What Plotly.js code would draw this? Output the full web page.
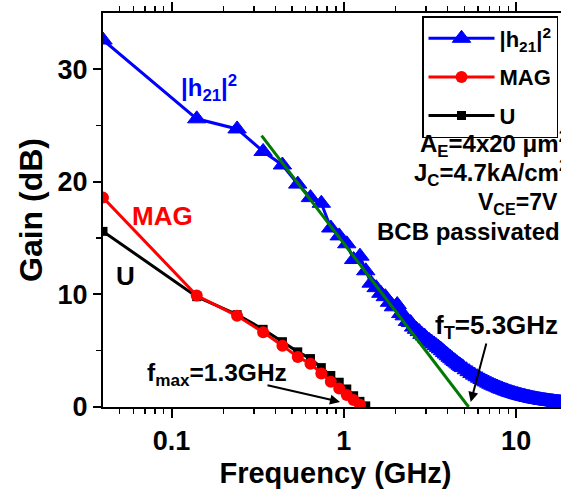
<!DOCTYPE html>
<html>
<head>
<meta charset="utf-8">
<script src="https://cdn.plot.ly/plotly-3.0.1.min.js"></script>
<style>
html,body{margin:0;padding:0;overflow:hidden;background:#fff;}
#chart{width:580px;height:489px;}
</style>
</head>
<body>
<div id="chart"></div>
<script>
// |h21|^2 measured data (GHz, dB)
const freqH21 = [0.04,0.14,0.24,0.34,0.44,0.54,0.64,0.74,0.84,0.94,
  1.04,1.14,1.24,1.34,1.44,1.54,1.64,1.74,1.84,1.94,
  2.04,2.14,2.24,2.34,2.44,2.54,2.64,2.74,2.84,2.94,
  3.04,3.14,3.24,3.34,3.44,3.54,3.64,3.74,3.84,3.94,
  4.04,4.14,4.24,4.34,4.44,4.54,4.64,4.74,4.84,4.94,
  5.14,5.34,5.54,5.74,5.94,6.14,6.34,6.54,6.74,6.94,
  7.14,7.34,7.54,7.74,7.94,8.14,8.34,8.54,8.74,8.94,
  9.14,9.34,9.54,9.74,9.94,10.14,10.34,10.54,10.74,10.94,
  11.14,11.34,11.54,11.74,11.94,12.14,12.34,12.54,12.74,12.94,
  13.14,13.34,13.54,13.74,13.94,14.14,14.34,14.54,14.74,14.94,
  15.14,15.34,15.54,15.74,15.94,16.14,16.34,16.54,16.74,16.94,
  17.14,17.34,17.54,17.74,17.94,18.14,18.34,18.54,18.74,18.94,
  19.14,19.34,19.54,19.74,19.94];
const gainH21 = [32.6,25.6,24.7,22.7,21.5,19.8,18.6,18.1,15.9,15.2,
  14.5,13.1,13.4,12.1,11.0,10.6,10.1,9.8,9.3,8.9,
  9.1,8.3,8.1,7.6,7.5,7.1,6.9,6.7,6.45,6.3,
  6.05,5.9,5.75,5.6,5.45,5.3,5.16,5.0,4.84,4.7,
  4.55,4.42,4.29,4.16,4.04,3.92,3.81,3.7,3.6,3.5,
  3.31,3.14,2.98,2.83,2.69,2.56,2.44,2.32,2.22,2.12,
  2.02,1.93,1.85,1.78,1.70,1.63,1.57,1.51,1.45,1.40,
  1.34,1.29,1.25,1.20,1.16,1.12,1.08,1.05,1.01,0.98,
  0.95,0.92,0.89,0.86,0.84,0.81,0.79,0.76,0.74,0.72,
  0.70,0.68,0.66,0.65,0.63,0.61,0.60,0.58,0.57,0.55,
  0.54,0.53,0.51,0.50,0.49,0.48,0.47,0.46,0.44,0.43,
  0.43,0.42,0.41,0.40,0.39,0.38,0.37,0.37,0.36,0.35,
  0.34,0.34,0.33,0.32,0.32];

// MAG
const freqMAG = [0.04,0.14,0.24,0.34,0.44,0.54,0.64,0.74,0.84,0.94,1.04,1.14,1.24];
const gainMAG = [18.6,9.9,8.1,6.65,5.45,4.45,3.85,2.97,2.24,1.65,1.06,0.62,0.2];

// U
const freqU = [0.04,0.14,0.24,0.34,0.44,0.54,0.64,0.74,0.84,0.94,1.04,1.14,1.24,1.34];
const gainU = [15.6,9.8,8.2,6.9,5.8,4.9,4.3,3.5,2.8,2.2,1.6,1.0,0.5,0.1];

// -20 dB/dec fit line
const freqFit = [0.333, 5.3];
const gainFit = [24.1, 0];

const tickValsX = [0.1, 1, 10];
const tickTextX = ['0.1', '1', '10'];
const minorX = [0.05,0.06,0.07,0.08,0.09,0.2,0.3,0.4,0.5,0.6,0.7,0.8,0.9,2,3,4,5,6,7,8,9,20];
const tickValsY = [0, 10, 20, 30];
const minorY = [5, 15, 25];

const FONT = 'Liberation Sans, Arial, sans-serif';

// plot area pixel geometry helpers for paper-placed text
const PL = 103, PR = 568, PT = 13, PB = 407;
const px2paperX = p => (p - PL) / (PR - PL);
const px2paperY = p => (PB - p) / (PB - PT);

const BLUE = '#0000ff', RED = '#ff0000', BLACK = '#000000', GREEN = '#007a00';

const traces = [
  {x: freqU, y: gainU, name: 'U', mode: 'lines+markers', legendrank: 3, legendgroup: 'u',
   line: {color: BLACK, width: 3}, marker: {symbol: 'square', size: 9, color: BLACK}},
  {x: freqMAG, y: gainMAG, name: 'MAG', mode: 'lines+markers', legendrank: 2, legendgroup: 'mag',
   line: {color: RED, width: 3}, marker: {symbol: 'circle', size: 12, color: RED}},
  {x: freqH21, y: gainH21, name: '|h<sub>21</sub>|<sup>2</sup>', mode: 'lines+markers', legendrank: 1, legendgroup: 'h',
   line: {color: BLUE, width: 3},
   marker: {symbol: 'triangle-up', size: 16, color: BLUE, line: {width: 1, color: BLUE}}},
  {x: freqFit, y: gainFit, name: 'fit', mode: 'lines', showlegend: false,
   line: {color: GREEN, width: 3}}
];

const annFont = (size, color) => ({family: FONT, size: size, color: color || BLACK});

const annotations = [
  {xref: 'paper', yref: 'paper', x: px2paperX(179), y: px2paperY(88), xanchor: 'left', yanchor: 'middle',
   text: '<b>|h<sub>21</sub>|<sup>2</sup></b>', showarrow: false, font: annFont(24, BLUE)},
  {xref: 'paper', yref: 'paper', x: px2paperX(130), y: px2paperY(216), xanchor: 'left', yanchor: 'middle',
   text: '<b>MAG</b>', showarrow: false, font: annFont(26, RED)},
  {xref: 'paper', yref: 'paper', x: px2paperX(114), y: px2paperY(276), xanchor: 'left', yanchor: 'middle',
   text: '<b>U</b>', showarrow: false, font: annFont(26, BLACK)},
  {xref: 'paper', yref: 'paper', x: px2paperX(145), y: px2paperY(374), xanchor: 'left', yanchor: 'middle',
   text: '<b>f<sub>max</sub>=1.3GHz</b>', showarrow: false, font: annFont(24.5)},
  {xref: 'paper', yref: 'paper', x: px2paperX(433), y: px2paperY(326), xanchor: 'left', yanchor: 'middle',
   text: '<b>f<sub>T</sub>=5.3GHz</b>', showarrow: false, font: annFont(26)},
  {xref: 'x', yref: 'y', x: Math.log10(0.95), y: 0.45, ax: -74, ay: -17,
   showarrow: true, arrowhead: 2, arrowsize: 1, arrowwidth: 2, arrowcolor: BLACK, text: ''},
  {xref: 'x', yref: 'y', x: Math.log10(5.45), y: 0.45, ax: 16, ay: -60,
   showarrow: true, arrowhead: 2, arrowsize: 1, arrowwidth: 2, arrowcolor: BLACK, text: ''},
  {xref: 'paper', yref: 'paper', x: px2paperX(570), y: px2paperY(144), xanchor: 'right', yanchor: 'middle',
   text: '<b>A<sub>E</sub>=4x20 μm<sup>2</sup></b>', showarrow: false, font: annFont(24)},
  {xref: 'paper', yref: 'paper', x: px2paperX(570), y: px2paperY(173), xanchor: 'right', yanchor: 'middle',
   text: '<b>J<sub>C</sub>=4.7kA/cm<sup>2</sup></b>', showarrow: false, font: annFont(24)},
  {xref: 'paper', yref: 'paper', x: px2paperX(560), y: px2paperY(203), xanchor: 'right', yanchor: 'middle',
   text: '<b>V<sub>CE</sub>=7V</b>', showarrow: false, font: annFont(23)},
  {xref: 'paper', yref: 'paper', x: px2paperX(562), y: px2paperY(231), xanchor: 'right', yanchor: 'middle',
   text: '<b>BCB passivated</b>', showarrow: false, font: annFont(24)}
];

const layout = {
  width: 580, height: 489,
  margin: {l: PL, r: 580 - PR, t: PT, b: 489 - PB, pad: 0},
  paper_bgcolor: '#fff', plot_bgcolor: '#fff',
  font: {family: FONT, color: BLACK},
  showlegend: true,
  legend: {
    x: px2paperX(422), y: px2paperY(16), xanchor: 'left', yanchor: 'top',
    bgcolor: '#fff', bordercolor: BLACK, borderwidth: 1.5,
    font: {family: FONT, size: 22, color: BLACK, weight: 'bold'},
    itemwidth: 66, tracegroupgap: 7
  },
  xaxis: {
    type: 'log', range: [Math.log10(0.04), Math.log10(20)],
    tickmode: 'array', tickvals: tickValsX, ticktext: tickTextX,
    ticks: 'outside', ticklen: 9, tickwidth: 2, tickcolor: BLACK,
    minor: {tickmode: 'array', tickvals: minorX, ticks: 'outside', ticklen: 5, tickwidth: 1.5, tickcolor: BLACK, showgrid: false},
    showline: true, linecolor: BLACK, linewidth: 2, mirror: 'ticks',
    showgrid: false, zeroline: false,
    tickfont: {family: FONT, size: 27, color: BLACK, weight: 'bold'},
    title: {text: '<b>Frequency (GHz)</b>', font: {family: FONT, size: 29, color: BLACK}, standoff: 8}
  },
  yaxis: {
    range: [0, 35],
    tickmode: 'array', tickvals: tickValsY,
    ticks: 'outside', ticklen: 8, tickwidth: 2, tickcolor: BLACK,
    minor: {tickmode: 'array', tickvals: minorY, ticks: 'outside', ticklen: 5, tickwidth: 1.5, tickcolor: BLACK, showgrid: false},
    showline: true, linecolor: BLACK, linewidth: 2, mirror: 'ticks',
    showgrid: false, zeroline: false,
    tickfont: {family: FONT, size: 27, color: BLACK, weight: 'bold'},
    title: {text: '<b>Gain (dB)</b>', font: {family: FONT, size: 32, color: BLACK}, standoff: 5}
  },
  annotations: annotations
};

Plotly.newPlot('chart', traces, layout, {displayModeBar: false, staticPlot: true});
</script>
</body>
</html>
